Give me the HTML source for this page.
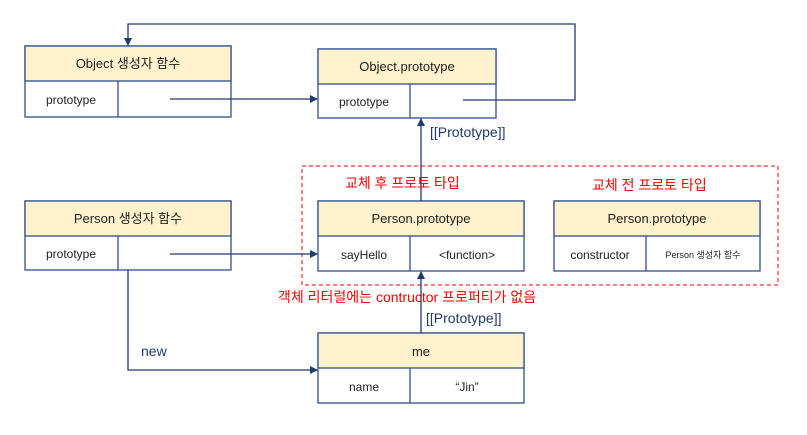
<!DOCTYPE html>
<html><head><meta charset="utf-8"><style>
body{margin:0;background:#fff;}
svg text{font-family:"Liberation Sans","Noto Sans CJK KR",sans-serif;}
</style></head><body>
<svg width="807" height="430" xmlns="http://www.w3.org/2000/svg">
<defs><marker id="a" markerWidth="8" markerHeight="8" refX="7" refY="4" orient="auto" markerUnits="userSpaceOnUse"><path d="M0,0 L8,4 L0,8 z" fill="#1f3a6e"/></marker></defs>
<g stroke="#2f4f8f" stroke-width="1.3" fill="#fff">
<rect x="25" y="46" width="206" height="71"/><rect x="25" y="46" width="206" height="35" fill="#fff2cc"/><line x1="118" y1="81" x2="118" y2="117"/>
<rect x="318" y="49" width="178" height="69"/><rect x="318" y="49" width="178" height="35" fill="#fff2cc"/><line x1="410" y1="84" x2="410" y2="118"/>
<rect x="25" y="201" width="206" height="69"/><rect x="25" y="201" width="206" height="35" fill="#fff2cc"/><line x1="118" y1="236" x2="118" y2="270"/>
<rect x="318" y="201" width="206" height="70"/><rect x="318" y="201" width="206" height="35" fill="#fff2cc"/><line x1="410" y1="236" x2="410" y2="271"/>
<rect x="554" y="201" width="206" height="70"/><rect x="554" y="201" width="206" height="35" fill="#fff2cc"/><line x1="646" y1="236" x2="646" y2="271"/>
<rect x="318" y="333" width="206" height="70"/><rect x="318" y="333" width="206" height="35" fill="#fff2cc"/><line x1="410" y1="368" x2="410" y2="403"/>
</g>
<rect x="302" y="166" width="476" height="119" fill="none" stroke="#f00" stroke-dasharray="4,3"/>
<g stroke="#1f3a6e" stroke-width="1.3" fill="none">
<line x1="170" y1="99" x2="317" y2="99" marker-end="url(#a)"/>
<polyline points="463,100 575,100 575,24 128,24 128,45" marker-end="url(#a)"/>
<line x1="421" y1="201" x2="421" y2="119" marker-end="url(#a)"/>
<line x1="170" y1="254" x2="317" y2="254" marker-end="url(#a)"/>
<polyline points="128,270 128,370 317,370" marker-end="url(#a)"/>
<line x1="421" y1="333" x2="421" y2="272" marker-end="url(#a)"/>
</g>
<g font-size="13" fill="#222" text-anchor="middle">
<text x="128" y="68">Object 생성자 함수</text><text x="71" y="104" font-size="12">prototype</text>
<text x="407" y="71">Object.prototype</text><text x="364" y="106" font-size="12">prototype</text>
<text x="128" y="223">Person 생성자 함수</text><text x="71" y="258" font-size="12">prototype</text>
<text x="421" y="223">Person.prototype</text><text x="364" y="259" font-size="12">sayHello</text><text x="467" y="259" font-size="12">&lt;function&gt;</text>
<text x="657" y="223">Person.prototype</text><text x="600" y="259" font-size="12">constructor</text><text x="703" y="258" font-size="9">Person 생성자 함수</text>
<text x="421" y="356">me</text><text x="364" y="391" font-size="12">name</text><text x="467" y="391" font-size="12">“Jin”</text>
</g>
<g font-size="14">
<text x="430" y="137" fill="#1f3a6e">[[Prototype]]</text>
<text x="426" y="323" fill="#1f3a6e">[[Prototype]]</text>
<text x="141" y="356" fill="#1f3a6e">new</text>
<text x="345" y="188" fill="#f00">교체 후 프로토 타입</text>
<text x="592" y="190" fill="#f00">교체 전 프로토 타입</text>
<text x="278" y="302" fill="#f00">객체 리터럴에는 contructor 프로퍼티가 없음</text>
</g>
</svg>
</body></html>
